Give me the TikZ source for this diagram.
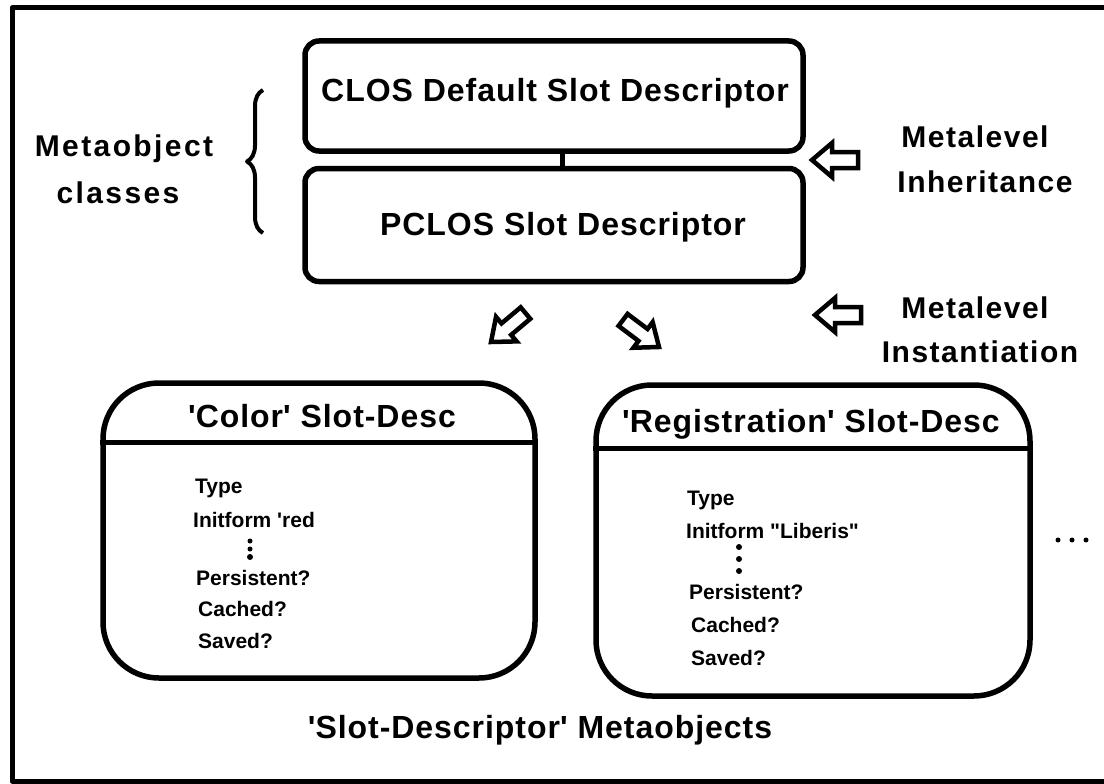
\documentclass[tikz,border=0pt]{standalone}
\usepackage{fontspec}
\usetikzlibrary{decorations.pathreplacing,calc}
\newfontfamily\titlefont{Liberation Sans}[LetterSpace=3]
\newfontfamily\leftfont{Liberation Sans}[LetterSpace=8]
\newfontfamily\rightfont{Liberation Sans}[LetterSpace=5]
\newfontfamily\bodyfont{Liberation Sans}
\newcommand{\sq}{\textquotesingle}
\newcommand{\dq}{\textquotedbl}
\begin{document}
\begin{tikzpicture}[x=1pt,y=-1pt,line join=round,
  classbox/.style={draw,line width=5.5pt,rounded corners=14pt,inner sep=0pt,
    minimum width=498pt},
  slotbox/.style={draw,line width=5.5pt,rounded corners=56pt,inner sep=0pt},
  title/.style={font=\titlefont\bfseries\fontsize{32}{36}\selectfont,
    inner sep=0pt,anchor=base},
  lside/.style={font=\leftfont\bfseries\fontsize{30}{34}\selectfont,
    inner sep=0pt,anchor=base},
  rside/.style={font=\rightfont\bfseries\fontsize{30}{34}\selectfont,
    inner sep=0pt,anchor=base},
  body/.style={font=\bodyfont\bfseries\fontsize{21}{24}\selectfont,
    inner sep=0pt,anchor=base west},
  dot/.style={circle,fill,inner sep=0pt,minimum size=#1},
  dot/.default=6pt,
  blockarrow/.style={draw,line width=4.5pt,fill=white,line join=miter}]

\useasboundingbox (0,0) rectangle (1104,784);

% outer frame, running off the right edge
\draw[line width=5pt] (1115,8) -- (12,8) -- (12,781) -- (1115,781);

% metaobject classes
\node[classbox,minimum height=110pt] (clos) at (554,96) {};
\node[classbox,minimum height=113pt] (pclos) at (554,225) {};
\node[title] (closlabel) at (555,102) {CLOS Default Slot Descriptor};
\node[title] (pcloslabel) at (563,235) {PCLOS Slot Descriptor};
\draw[line width=5pt] ($(clos.south)+(8,0)$) -- ($(pclos.north)+(8,0)$);

% brace grouping the class boxes
\coordinate (brbot) at (263,233);
\coordinate (brtop) at (263,90);
\draw[line width=4pt,decorate,decoration={brace,amplitude=16pt,aspect=0.5}]
  (brbot) -- (brtop);
\node[lside] (metaobj) at (124,157) {Metaobject};
\node[lside] (classes) at (118,203) {classes};

% right-hand legend
\node[rside] (ml1) at (975,147) {Metalevel};
\node[rside] (inh) at (985,192) {Inheritance};
\node[rside] (ml2) at (975,318) {Metalevel};
\node[rside] (inst) at (980,362) {Instantiation};

% hollow block arrows
\begin{scope}[shift={(812,160)}]
  \draw[blockarrow] (0,0) -- (20,-17) -- (20,-8) -- (46,-8) -- (46,8)
    -- (20,8) -- (20,17) -- cycle;
\end{scope}
\begin{scope}[shift={(815,315)}]
  \draw[blockarrow] (0,0) -- (20,-17) -- (20,-8) -- (46,-8) -- (46,8)
    -- (20,8) -- (20,17) -- cycle;
\end{scope}
\begin{scope}[shift={(491,342)},rotate=40]
  \draw[blockarrow] (0,0) -- (20,-16) -- (20,-7.5) -- (45,-7.5) -- (45,7.5)
    -- (20,7.5) -- (20,16) -- cycle;
\end{scope}
\begin{scope}[shift={(659,347)},rotate=143]
  \draw[blockarrow] (0,0) -- (20,-16) -- (20,-7.5) -- (45,-7.5) -- (45,7.5)
    -- (20,7.5) -- (20,16) -- cycle;
\end{scope}

% slot-descriptor metaobjects
\node[slotbox,minimum width=432pt,minimum height=295pt] (colorbox) at (319,530.5) {};
\draw[line width=5pt] ($(colorbox.north west)+(0,62)$) -- ($(colorbox.north east)+(0,62)$);
\node[title] (colortitle) at (322,427) {\sq Color\sq\ Slot-Desc};
\node[body] (c1) at (195,493) {Type};
\node[body] (c2) at (193,527) {Initform \sq red};
\node[dot=5pt] (cd1) at (250,541) {};
\node[dot=5pt] (cd2) at (250,549) {};
\node[dot=6pt] (cd3) at (250,557) {};
\node[body] (c3) at (196,585) {Persistent?};
\node[body] (c4) at (198,616) {Cached?};
\node[body] (c5) at (198,648) {Saved?};

\node[slotbox,minimum width=434pt,minimum height=311pt] (regbox) at (813,540.5) {};
\draw[line width=5pt] ($(regbox.north west)+(0,66)$) -- ($(regbox.north east)+(0,66)$);
\node[title] (regtitle) at (811,432) {\sq Registration\sq\ Slot-Desc};
\node[body] (r1) at (687,505) {Type};
\node[body] (r2) at (686,538) {Initform \dq Liberis\dq};
\node[dot] (rd1) at (739,547) {};
\node[dot] (rd2) at (739,559) {};
\node[dot] (rd3) at (739,571) {};
\node[body] (r3) at (689,599) {Persistent?};
\node[body] (r4) at (691,632) {Cached?};
\node[body] (r5) at (691,665) {Saved?};

% more instances
\node[dot=5pt] (m1) at (1058,540) {};
\node[dot=5pt] (m2) at (1072,540) {};
\node[dot=5pt] (m3) at (1086,540) {};

\node[title] (caption) at (540,738) {\sq Slot-Descriptor\sq\ Metaobjects};
\end{tikzpicture}
\end{document}
